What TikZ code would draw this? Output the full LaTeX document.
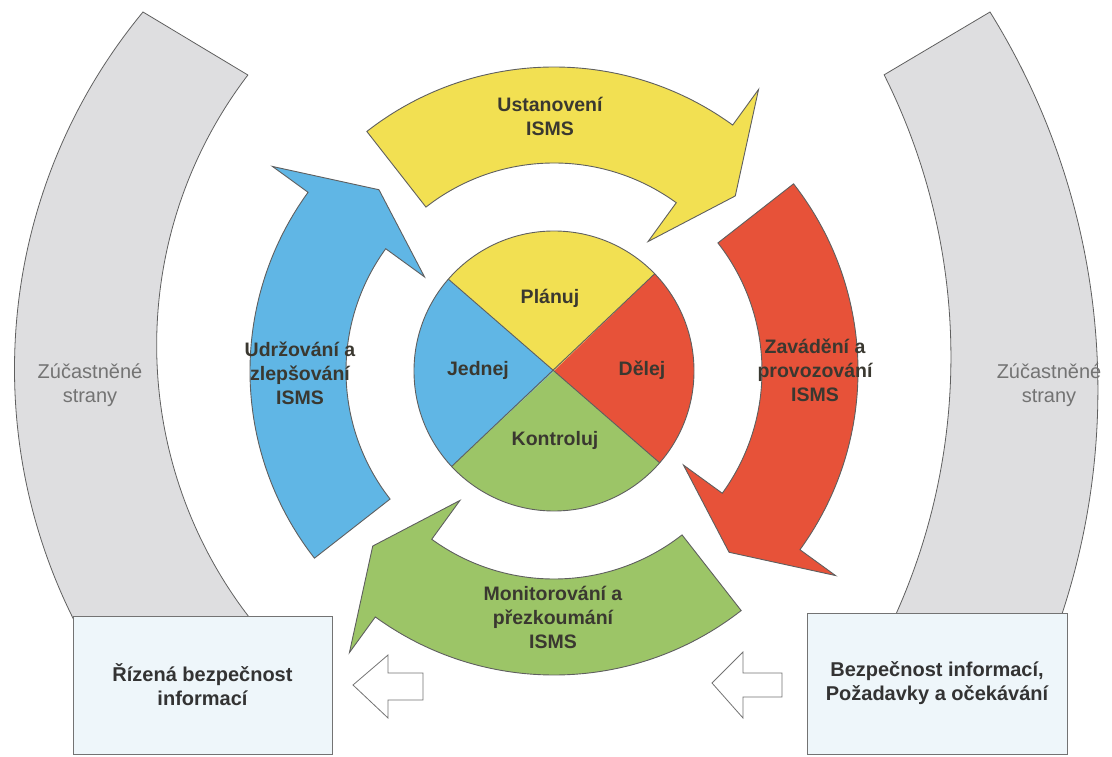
\documentclass[tikz,border=0pt]{standalone}
\usepackage{fontspec}
\setmainfont{Liberation Sans}
\usetikzlibrary{calc}

\definecolor{planY}{RGB}{242,224,82}
\definecolor{doR}{RGB}{231,82,57}
\definecolor{checkG}{RGB}{156,197,103}
\definecolor{actB}{RGB}{96,182,229}
\definecolor{partyGrey}{RGB}{222,222,224}
\definecolor{boxFill}{RGB}{238,246,250}
\definecolor{edgeGrey}{RGB}{95,95,95}
\definecolor{labelDark}{RGB}{58,56,48}

\tikzset{
  ring/.style={draw=edgeGrey, line width=0.9pt, line join=miter},
  ringlabel/.style={font=\fontsize{19.5}{24}\selectfont\bfseries, text=labelDark, align=center},
  partyband/.style={draw=edgeGrey, line width=0.8pt, fill=partyGrey},
  partylabel/.style={font=\fontsize{20}{24}\selectfont, text=black!55, align=center},
  infobox/.style={draw=black!55, line width=0.8pt, fill=boxFill, font=\fontsize{20}{24}\selectfont\bfseries,
    text=black!80, align=center, inner sep=0pt},
  hollow/.style={draw=black!55, line width=0.8pt, fill=white, line join=miter}
}

\begin{document}
\begin{tikzpicture}[x=1pt, y=1pt]
\useasboundingbox (0,0) rectangle (1112,756);
% zucastnene strany
\draw [partyband] (143,744) arc[start angle=140.4, end angle=210.1, radius=560pt]
  -- (277,106) arc[start angle=223.1, end angle=142.7, radius=446pt] -- cycle;
\draw [partyband] (990,744) arc[start angle=31.87, end angle=-21.32, radius=716pt]
  -- (878.5,106) arc[start angle=-27.77, end angle=26.65, radius=629pt] -- cycle;
\node [partylabel] (partyL) at (90,371) {Zúčastněné\\strany};
\node [partylabel] (partyR) at (1049,371) {Zúčastněné\\strany};

% PDCA kruh
\begin{scope}[shift={(554,385)}]
\foreach \col/\t in {planY/128, doR/38, checkG/-52, actB/-142} {
  \draw [ring, fill=\col] (\t:304) arc[start angle=\t, end angle=\t-74, radius=304pt]
    -- ({\t-74}:348) -- ({\t-84}:252) -- ({\t-74}:160) -- ({\t-74}:208)
    arc[start angle=\t-74, end angle=\t, radius=208pt] -- cycle;
}
\fill [planY] (0,0) -- (44:140) arc[start angle=44, end angle=139, radius=140pt] -- cycle;
\fill [actB] (0,0) -- (139:140) arc[start angle=139, end angle=223, radius=140pt] -- cycle;
\fill [checkG] (0,0) -- (223:140) arc[start angle=223, end angle=319, radius=140pt] -- cycle;
\fill [doR] (0,0) -- (319:140) arc[start angle=319, end angle=404, radius=140pt] -- cycle;
\draw [ring] (0,0) circle[radius=140pt];
\draw [ring] (44:140) -- (223:140);
\draw [ring] (139:140) -- (319:140);
\end{scope}

\node [ringlabel] (plan) at (550,458) {Plánuj};
\node [ringlabel] (act) at (478,386) {Jednej};
\node [ringlabel] (do) at (642,386) {Dělej};
\node [ringlabel] (check) at (555,316) {Kontroluj};

\node [ringlabel] (establish) at (550,640) {Ustanovení\\ISMS};
\node [ringlabel] (implement) at (815,386) {Zavádění a\\provozování\\ISMS};
\node [ringlabel] (monitor) at (553,139) {Monitorování a\\přezkoumání\\ISMS};
\node [ringlabel] (improve) at (300,383) {Udržování a\\zlepšování\\ISMS};

% vstup a vystup
\node [infobox, minimum width=259pt, minimum height=138pt] (managed) at (202.5,71) {Řízená bezpečnost\\informací};
\node [infobox, minimum width=260pt, minimum height=141pt] (demands) at (937,72.5) {Bezpečnost informací,\\Požadavky a očekávání};
\draw [hollow] (353,71) -- (388,101) -- (388,83) -- (423,83) -- (423,56) -- (388,56) -- (388,38) -- cycle;
\draw [hollow] (712,73) -- (743,104) -- (743,83) -- (782,83) -- (782,59) -- (743,59) -- (743,38) -- cycle;
\end{tikzpicture}
\end{document}
